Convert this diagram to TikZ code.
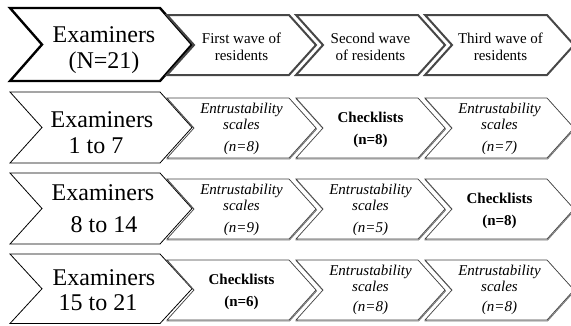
\documentclass[tikz,border=0pt]{standalone}
\usepackage{fontspec}
\setmainfont{Liberation Serif}
\tikzset{
  hdrbig/.style={draw=black, line width=2.4pt, fill=white},
  hdrsmall/.style={draw=black!72, line width=2pt, fill=white},
  rowbig/.style={draw=black, line width=0.8pt, fill=white},
  rowsmall/.style={draw=black!75, line width=0.7pt, fill=white},
  rowshadow/.style={draw=black!55, line width=0.9pt},
  bigtxt/.style={anchor=base, inner sep=0pt, font=\fontsize{24}{26}\selectfont},
  smalltxt/.style={anchor=base, inner sep=0pt, font=\fontsize{15}{17}\selectfont},
}
% style, x0, ytop, ybot, body width, point depth
\newcommand\chevshape[6]{%
  \path[#1] (#2,#3) -- ({#2+#5},#3) -- ({#2+#5+#6},{(#3+#4)/2}) -- ({#2+#5},#4)
    -- (#2,#4) -- ({#2+#6},{(#3+#4)/2}) -- cycle;}
\newcommand\rowchev[3]{% x0, ytop, ybot
  \chevshape{rowshadow, shift={(0.5,1)}}{#1}{#2}{#3}{122}{27}%
  \chevshape{rowsmall}{#1}{#2}{#3}{122}{27}}
\begin{document}
\begin{tikzpicture}[x=1pt,y=-1pt]
\useasboundingbox (0,0) rectangle (571,325);
% ---------- header ----------
\chevshape{hdrbig}{10}{8}{81}{150}{32}
\chevshape{hdrsmall}{167}{15}{75}{122}{27}
\chevshape{hdrsmall}{296}{15}{75}{122}{27}
\chevshape{hdrsmall}{425}{15}{75}{122}{27}
\node[bigtxt] (h0a) at (104,42) {Examiners};
\node[bigtxt] (h0b) at (104,68) {(N=21)};
\node[smalltxt] (h1a) at (241.5,43) {First wave of};
\node[smalltxt] (h1b) at (241.5,60) {residents};
\node[smalltxt] (h2a) at (370.5,43) {Second wave};
\node[smalltxt] (h2b) at (370.5,60) {of residents};
\node[smalltxt] (h3a) at (500.5,43) {Third wave of};
\node[smalltxt] (h3b) at (500.5,60) {residents};
% ---------- row 1 ----------
\chevshape{rowbig}{10}{92}{163}{150}{32}
\rowchev{167}{98}{158}
\rowchev{296}{98}{158}
\rowchev{425}{98}{158}
\node[bigtxt] (r1a) at (102,127) {Examiners};
\node[bigtxt] (r1b) at (96,153) {1 to 7};
\node[smalltxt] (r1c1a) at (241.5,113) {\itshape Entrustability};
\node[smalltxt] (r1c1b) at (241.5,129) {\itshape scales};
\node[smalltxt] (r1c1c) at (241.5,151) {\itshape (n=8)};
\node[smalltxt] (r1c2a) at (370.5,122) {\bfseries Checklists};
\node[smalltxt] (r1c2b) at (370.5,144) {\bfseries (n=8)};
\node[smalltxt] (r1c3a) at (499.5,113) {\itshape Entrustability};
\node[smalltxt] (r1c3b) at (499.5,129) {\itshape scales};
\node[smalltxt] (r1c3c) at (499.5,151) {\itshape (n=7)};
% ---------- row 2 ----------
\chevshape{rowbig}{10}{173}{244}{150}{32}
\rowchev{167}{179}{239}
\rowchev{296}{179}{239}
\rowchev{425}{179}{239}
\node[bigtxt] (r2a) at (103,200) {Examiners};
\node[bigtxt] (r2b) at (104,232) {8 to 14};
\node[smalltxt] (r2c1a) at (241.5,194) {\itshape Entrustability};
\node[smalltxt] (r2c1b) at (241.5,210) {\itshape scales};
\node[smalltxt] (r2c1c) at (241.5,232) {\itshape (n=9)};
\node[smalltxt] (r2c2a) at (370.5,194) {\itshape Entrustability};
\node[smalltxt] (r2c2b) at (370.5,210) {\itshape scales};
\node[smalltxt] (r2c2c) at (370.5,232) {\itshape (n=5)};
\node[smalltxt] (r2c3a) at (499.5,203) {\bfseries Checklists};
\node[smalltxt] (r2c3b) at (499.5,225) {\bfseries (n=8)};
% ---------- row 3 ----------
\chevshape{rowbig}{10}{254}{323.5}{150}{32}
\rowchev{167}{260}{320}
\rowchev{296}{260}{320}
\rowchev{425}{260}{320}
\node[bigtxt] (r3a) at (104,285) {Examiners};
\node[bigtxt] (r3b) at (98,310) {15 to 21};
\node[smalltxt] (r3c1a) at (241.5,284) {\bfseries Checklists};
\node[smalltxt] (r3c1b) at (241.5,306) {\bfseries (n=6)};
\node[smalltxt] (r3c2a) at (370.5,275) {\itshape Entrustability};
\node[smalltxt] (r3c2b) at (370.5,291) {\itshape scales};
\node[smalltxt] (r3c2c) at (370.5,311) {\itshape (n=8)};
\node[smalltxt] (r3c3a) at (499.5,275) {\itshape Entrustability};
\node[smalltxt] (r3c3b) at (499.5,291) {\itshape scales};
\node[smalltxt] (r3c3c) at (499.5,311) {\itshape (n=8)};
\end{tikzpicture}
\end{document}
